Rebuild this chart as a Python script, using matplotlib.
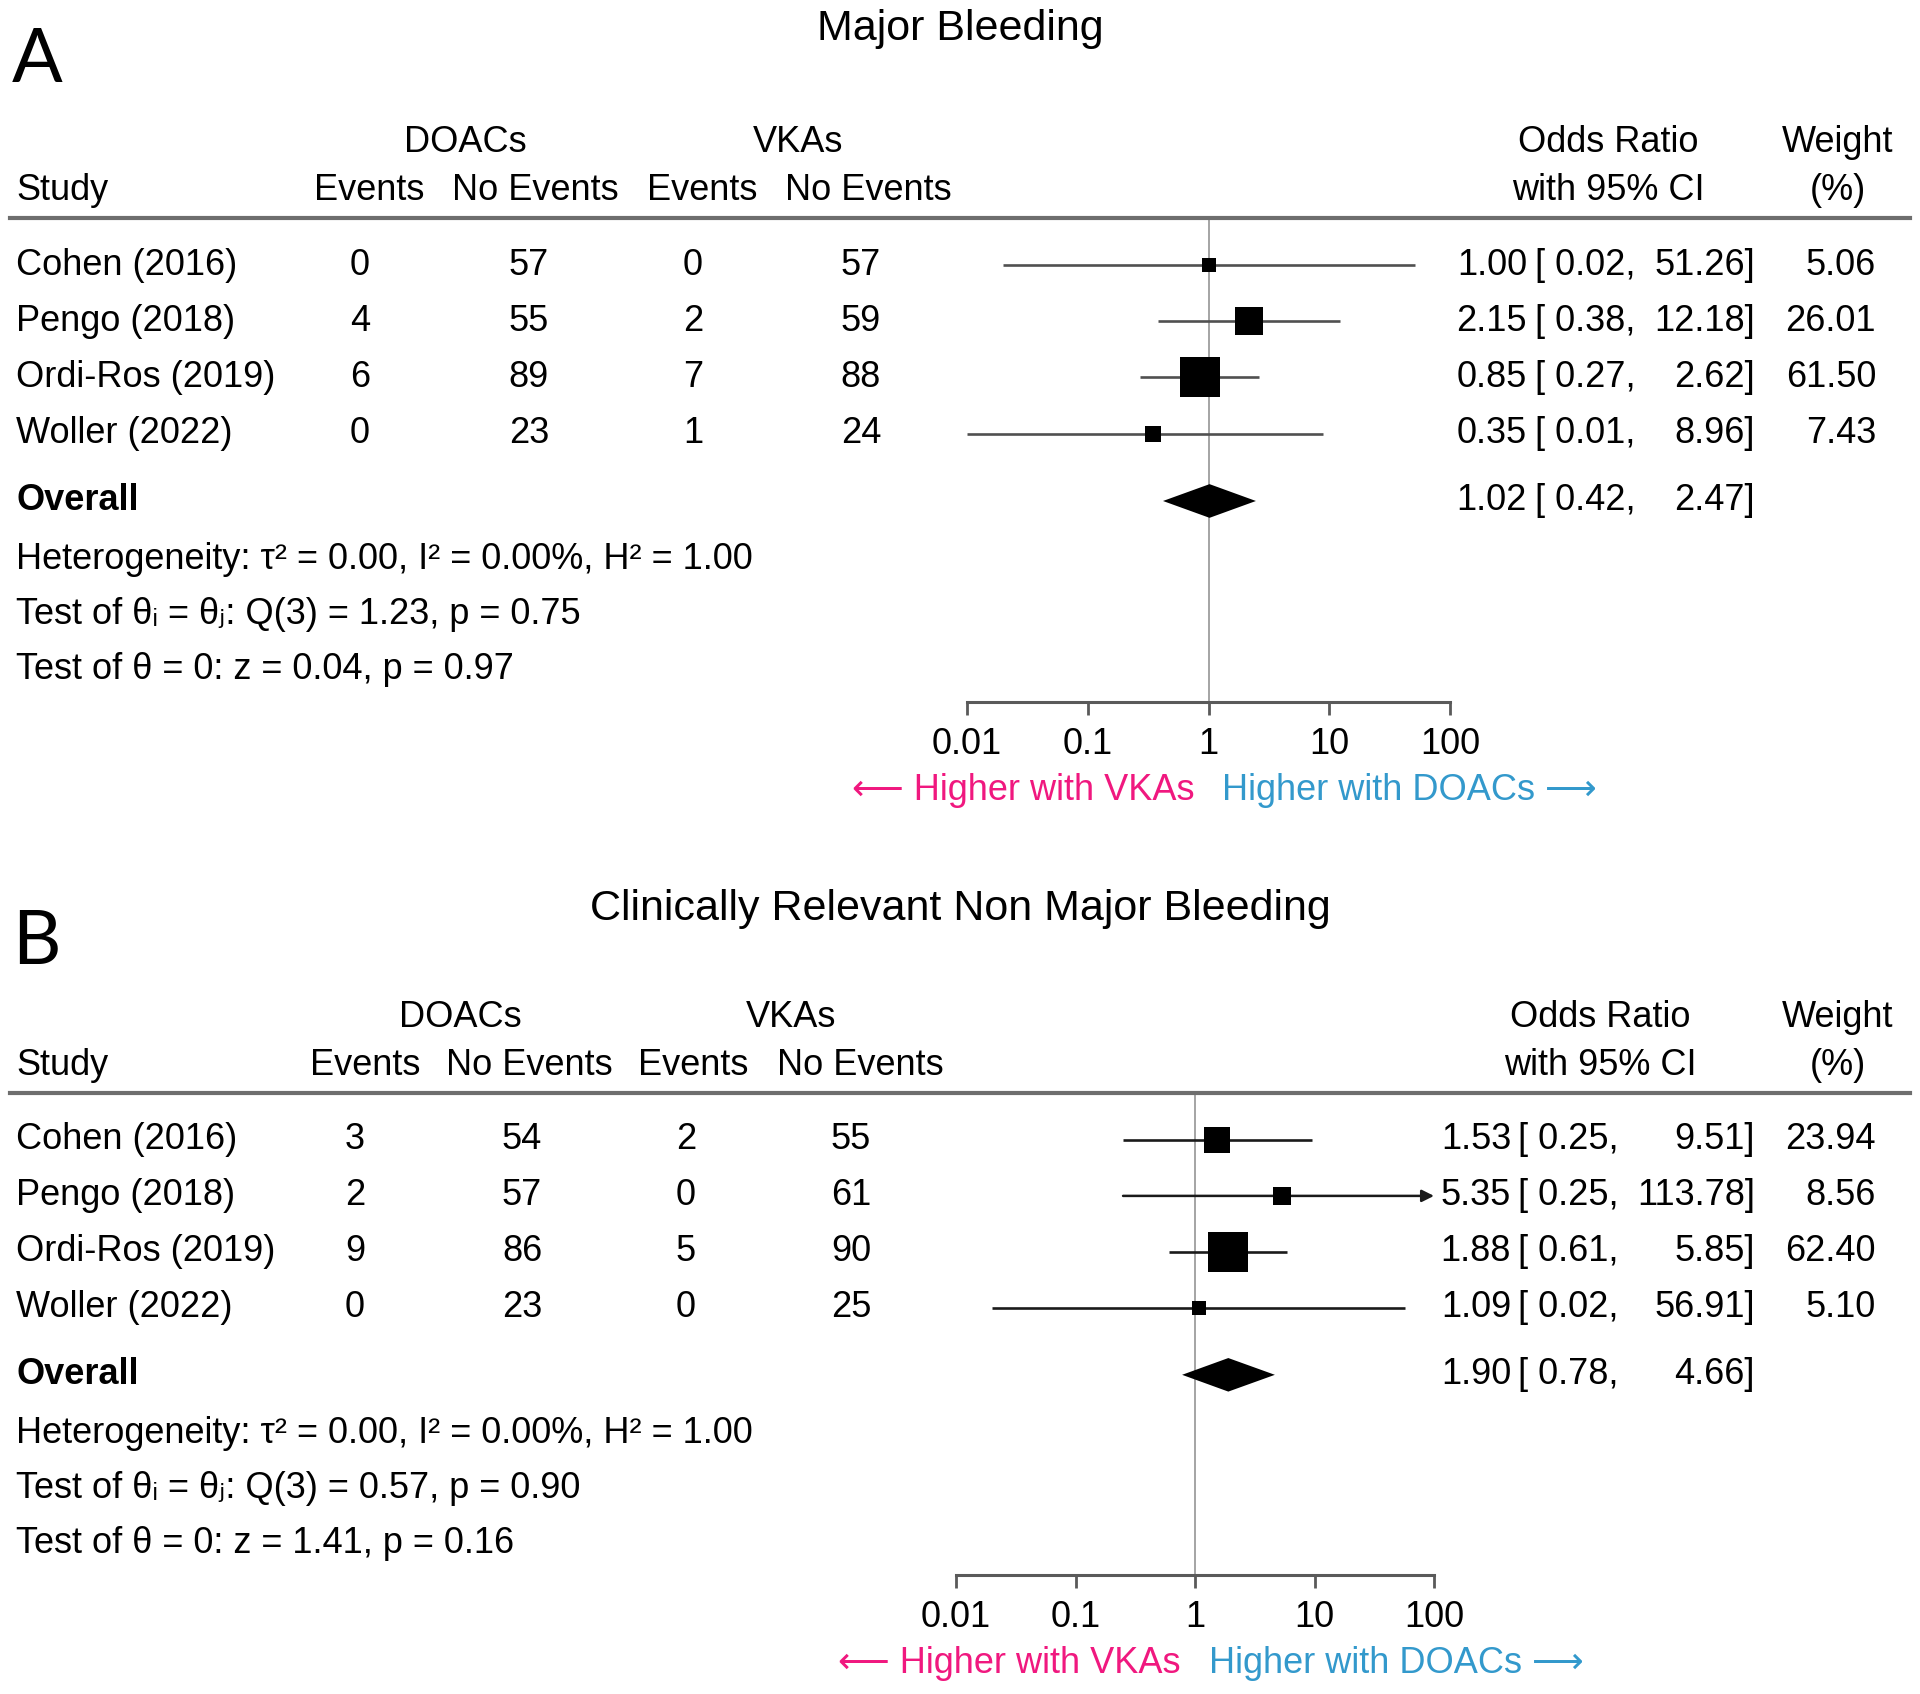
import numpy as np
import matplotlib
matplotlib.use("Agg")
import matplotlib.pyplot as plt
from matplotlib import transforms
from matplotlib.lines import Line2D
from matplotlib.patches import Polygon

plt.rcParams['font.family'] = ['Liberation Sans', 'DejaVu Sans']

# ---- data ----
studies = ["Cohen (2016)", "Pengo (2018)", "Ordi-Ros (2019)", "Woller (2022)"]

# A: major bleeding
a_doac_ev = [0, 4, 6, 0]
a_doac_no = [57, 55, 89, 23]
a_vka_ev = [0, 2, 7, 1]
a_vka_no = [57, 59, 88, 24]
a_or = [1.00, 2.15, 0.85, 0.35]
a_lo = [0.02, 0.38, 0.27, 0.01]
a_hi = [51.26, 12.18, 2.62, 8.96]
a_w = [5.06, 26.01, 61.50, 7.43]
a_overall = [1.02, 0.42, 2.47]
a_stats = ["Heterogeneity: τ² = 0.00, I² = 0.00%, H² = 1.00",
           "Test of θᵢ = θⱼ: Q(3) = 1.23, p = 0.75",
           "Test of θ = 0: z = 0.04, p = 0.97"]

# B: clinically relevant non major bleeding
b_doac_ev = [3, 2, 9, 0]
b_doac_no = [54, 57, 86, 23]
b_vka_ev = [2, 0, 5, 0]
b_vka_no = [55, 61, 90, 25]
b_or = [1.53, 5.35, 1.88, 1.09]
b_lo = [0.25, 0.25, 0.61, 0.02]
b_hi = [9.51, 113.78, 5.85, 56.91]
b_w = [23.94, 8.56, 62.40, 5.10]
b_overall = [1.90, 0.78, 4.66]
b_stats = ["Heterogeneity: τ² = 0.00, I² = 0.00%, H² = 1.00",
           "Test of θᵢ = θⱼ: Q(3) = 0.57, p = 0.90",
           "Test of θ = 0: z = 1.41, p = 0.16"]

ticks = [0.01, 0.1, 1, 10, 100]
tick_labels = ["0.01", "0.1", "1", "10", "100"]

W, H = 1920, 1694
fig = plt.figure(figsize=(W / 100, H / 100), dpi=100)

FS = 26
PINK = '#f0187f'
BLUE = '#3399cc'


def panel(letter, title, y_title, y_letter, top, bottom, x0, x1, cols, hdr, orx,
          doac_ev, doac_no, vka_ev, vka_no, est, lo, hi, w, overall, stats, cicol):
    ax = fig.add_axes([x0 / W, 1 - bottom / H, (x1 - x0) / W, (bottom - top) / H])
    ax.set_xscale('log')
    ax.set_xlim(0.01, 100)
    ax.set_ylim(7.78, -0.84)
    for s in ['top', 'left', 'right']:
        ax.spines[s].set_visible(False)
    ax.spines['bottom'].set_color('#5a5a5a')
    ax.spines['bottom'].set_linewidth(2.2)
    ax.set_yticks([])
    ax.set_xticks(ticks)
    ax.set_xticklabels(tick_labels, fontsize=FS)
    ax.minorticks_off()
    ax.tick_params(axis='x', length=9, width=2, color='#5a5a5a', pad=9)
    ax.patch.set_alpha(0)
    ax.axvline(1, color='#8c8c8c', lw=1.1, zorder=1)

    # study rows
    for i in range(len(est)):
        right = min(hi[i], 100)
        if hi[i] > 100:
            ax.annotate('', xy=(right, i), xytext=(lo[i], i), annotation_clip=False,
                        arrowprops=dict(arrowstyle='-|>', color=cicol, lw=1.8,
                                        mutation_scale=18, shrinkA=0, shrinkB=0))
        else:
            ax.plot([lo[i], right], [i, i], color=cicol, lw=1.9, solid_capstyle='butt', zorder=2)
        side = (4 + 4.6 * np.sqrt(w[i])) * 0.72
        ax.scatter([est[i]], [i], marker='s', s=side ** 2, color='black', lw=0, zorder=3)

    # overall diamond
    yo = 4.2
    e, l, h = overall
    ax.add_patch(Polygon([[l, yo], [e, yo - 0.3], [h, yo], [e, yo + 0.3]],
                         closed=True, color='black', lw=0, zorder=3))

    tr = transforms.blended_transform_factory(fig.transFigure, ax.transData)

    def t(x, y, s, **kw):
        kw.setdefault('ha', 'center')
        fig.text(x / W, y, s, transform=tr, va='center', fontsize=FS, **kw)

    # headers
    t(hdr[0], -2.19, "DOACs")
    t(hdr[1], -2.19, "VKAs")
    t(16, -1.33, "Study", ha='left')
    for x, s in zip(hdr[2:6], ["Events", "No Events", "Events", "No Events"]):
        t(x, -1.33, s)
    t(orx[4], -2.19, "Odds Ratio")
    t(orx[4], -1.33, "with 95% CI")
    t(1838, -2.19, "Weight")
    t(1838, -1.33, "(%)")

    for i, name in enumerate(studies):
        t(16, i, name, ha='left')
        for x, v in zip(cols, [doac_ev[i], doac_no[i], vka_ev[i], vka_no[i]]):
            t(x, i, str(v))
        t(orx[0], i, f"{est[i]:.2f}", ha='right')
        t(orx[1], i, f"[ {lo[i]:.2f},", ha='left')
        t(orx[2], i, f"{hi[i]:.2f}]", ha='right')
        t(orx[3], i, f"{w[i]:.2f}", ha='right')

    t(16, yo, "Overall", ha='left', fontweight='bold')
    t(orx[0], yo, f"{e:.2f}", ha='right')
    t(orx[1], yo, f"[ {l:.2f},", ha='left')
    t(orx[2], yo, f"{h:.2f}]", ha='right')
    for k, s in enumerate(stats):
        t(16, 5.25 + 0.98 * k, s, ha='left')

    # direction labels
    ax.annotate("⟵ Higher with VKAs", xy=(1, 0), xycoords=('data', 'axes fraction'),
                xytext=(-14, -88), textcoords='offset pixels', ha='right', va='center',
                fontsize=FS, color=PINK)
    ax.annotate("Higher with DOACs ⟶", xy=(1, 0), xycoords=('data', 'axes fraction'),
                xytext=(14, -88), textcoords='offset pixels', ha='left', va='center',
                fontsize=FS, color=BLUE)

    # header rule
    fig.add_artist(Line2D([10 / W, 1910 / W], [1 - top / H, 1 - top / H],
                          transform=fig.transFigure, color='#6e6e6e', lw=3))
    fig.text(960 / W, 1 - y_title / H, title, ha='center', va='center', fontsize=31)
    fig.text(12 / W, 1 - y_letter / H, letter, ha='left', va='center', fontsize=54,
             family=['Lato', 'DejaVu Sans'])


panel("A", "Major Bleeding", 29, 60, 218, 702, 967, 1450,
      [360, 529, 693, 861], [465, 798, 369, 535, 702, 868], [1527, 1535, 1755, 1876, 1608],
      a_doac_ev, a_doac_no, a_vka_ev, a_vka_no, a_or, a_lo, a_hi, a_w, a_overall, a_stats,
      '#505050')
panel("B", "Clinically Relevant Non Major Bleeding", 909, 942, 1093, 1575, 956, 1434,
      [355, 522, 686, 851], [460, 791, 365, 529, 693, 860], [1511, 1518, 1755, 1876, 1600],
      b_doac_ev, b_doac_no, b_vka_ev, b_vka_no, b_or, b_lo, b_hi, b_w, b_overall, b_stats,
      '#1a1a1a')

fig.savefig("out.png", dpi=100, facecolor='white')
